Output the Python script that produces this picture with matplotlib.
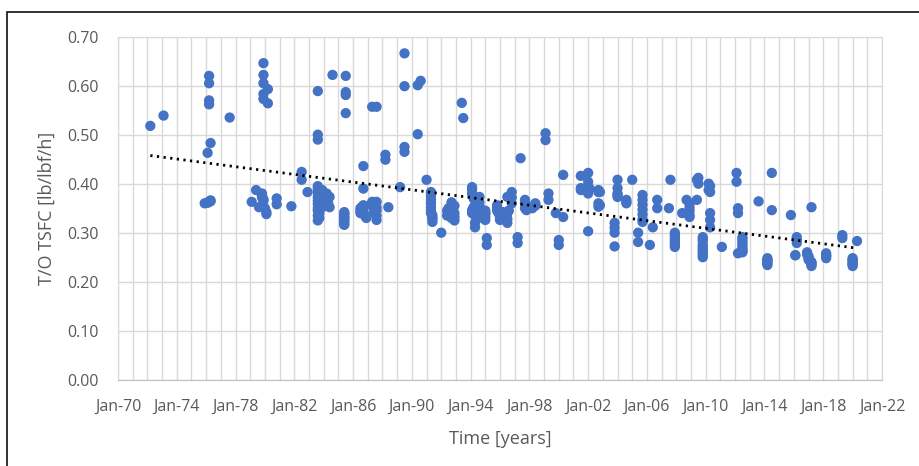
import numpy as np
import matplotlib
matplotlib.use("Agg")
import matplotlib.pyplot as plt
from matplotlib.patches import Rectangle
from matplotlib.ticker import MultipleLocator, FixedLocator

# engine entry-into-service (decimal year) and take-off TSFC [lb/lbf/h]
years_70s = [1972.2, 1973.1, 1976.2, 1976.2, 1976.2, 1976.2, 1976.3, 1976.1,
             1975.9, 1976.1, 1976.3, 1977.6,
             1979.9, 1979.9, 1979.9, 1979.9, 1979.9, 1980.2, 1980.2,
             1979.1, 1979.4, 1979.8, 1979.8, 1979.6, 1980.1, 1979.9]
tsfc_70s = [0.518, 0.539, 0.620, 0.605, 0.570, 0.562, 0.483, 0.463,
            0.360, 0.362, 0.366, 0.535,
            0.646, 0.622, 0.605, 0.583, 0.573, 0.593, 0.564,
            0.363, 0.387, 0.375, 0.380, 0.352, 0.338, 0.368]

years_80s = [1980.8, 1980.8, 1981.8, 1982.5, 1982.5, 1982.9,
             1983.6, 1983.6, 1983.6,
             1983.6, 1983.6, 1983.6, 1983.6, 1983.6, 1983.6, 1983.6,
             1983.9, 1983.9, 1983.9, 1984.2, 1984.2, 1984.4, 1984.4,
             1984.6, 1985.5, 1985.5, 1985.5, 1985.5,
             1985.4, 1985.4, 1985.4, 1985.4, 1985.4,
             1986.5, 1986.5, 1986.7, 1986.7, 1986.7, 1986.9, 1987.3, 1987.3,
             1987.6, 1987.6, 1987.6, 1987.6, 1988.2, 1988.2, 1988.4,
             1989.2, 1989.5, 1989.5, 1989.5, 1989.5]
tsfc_80s = [0.370, 0.358, 0.354, 0.424, 0.408, 0.383,
            0.589, 0.500, 0.490,
            0.395, 0.385, 0.372, 0.358, 0.345, 0.335, 0.325,
            0.387, 0.370, 0.352, 0.380, 0.365, 0.373, 0.352,
            0.622, 0.620, 0.587, 0.581, 0.544,
            0.342, 0.335, 0.328, 0.322, 0.316,
            0.340, 0.350, 0.356, 0.390, 0.436, 0.330, 0.363, 0.557,
            0.363, 0.326, 0.557, 0.345, 0.459, 0.449, 0.352,
            0.393, 0.666, 0.599, 0.475, 0.465]

years_90s = [1990.4, 1990.4, 1990.6, 1991.0,
             1991.3, 1991.3, 1991.3, 1991.4, 1991.4, 1992.0,
             1992.4, 1992.4, 1992.7, 1992.7, 1992.7, 1992.7, 1992.9, 1992.9,
             1993.4, 1993.5,
             1994.1, 1994.1, 1994.1, 1994.1, 1994.3, 1994.3,
             1994.6, 1994.6, 1994.6, 1995.0, 1995.0, 1995.0, 1995.1, 1995.1,
             1995.8, 1995.8, 1996.0, 1996.0, 1996.5, 1996.5, 1996.5,
             1996.8, 1996.8, 1997.2, 1997.2, 1997.4,
             1997.7, 1997.7, 1997.8, 1998.4, 1998.4,
             1999.1, 1999.1, 1999.3, 1999.3, 1999.8, 2000.0, 2000.0]
tsfc_90s = [0.601, 0.501, 0.610, 0.408,
            0.383, 0.367, 0.346, 0.336, 0.322, 0.300,
            0.345, 0.335, 0.362, 0.350, 0.340, 0.330, 0.355, 0.325,
            0.565, 0.534,
            0.393, 0.380, 0.346, 0.340, 0.311, 0.320,
            0.373, 0.332, 0.355, 0.326, 0.345, 0.338, 0.289, 0.275,
            0.356, 0.345, 0.326, 0.335, 0.320, 0.373, 0.340,
            0.383, 0.360, 0.291, 0.279, 0.452,
            0.367, 0.350, 0.346, 0.360, 0.355,
            0.503, 0.489, 0.380, 0.367, 0.340, 0.285, 0.275]

years_00s = [2000.3, 2000.3,
             2001.5, 2001.5, 2001.5, 2002.0, 2002.0, 2002.0, 2002.0, 2002.0,
             2002.1, 2002.7, 2002.7, 2002.7, 2002.7, 2002.8, 2002.8,
             2003.8, 2003.8, 2003.8, 2003.8,
             2004.0, 2004.0, 2004.0, 2004.0, 2004.0,
             2004.6, 2004.6, 2004.6, 2005.0, 2005.4, 2005.4,
             2005.7, 2005.7, 2005.7, 2005.7, 2005.7, 2005.7, 2005.7,
             2006.2, 2006.4, 2006.7, 2006.7, 2007.5, 2007.6,
             2007.9, 2007.9, 2007.9, 2007.9,
             2008.4, 2008.7, 2008.9, 2008.9, 2008.9, 2008.9, 2008.9,
             2009.4, 2009.4, 2009.5, 2009.5,
             2009.8, 2009.8, 2009.8, 2009.8, 2009.8, 2009.8]
tsfc_00s = [0.332, 0.418,
            0.416, 0.391, 0.387, 0.422, 0.404, 0.393, 0.380, 0.303,
            0.390, 0.387, 0.383, 0.360, 0.353, 0.383, 0.356,
            0.320, 0.310, 0.300, 0.272,
            0.408, 0.391, 0.380, 0.377, 0.373,
            0.367, 0.360, 0.363, 0.408, 0.300, 0.281,
            0.377, 0.367, 0.357, 0.347, 0.337, 0.327, 0.322,
            0.275, 0.311, 0.367, 0.350, 0.350, 0.408,
            0.300, 0.290, 0.280, 0.271,
            0.340, 0.367, 0.336, 0.352, 0.360, 0.345, 0.332,
            0.367, 0.408, 0.412, 0.400,
            0.291, 0.283, 0.275, 0.267, 0.258, 0.250]

years_10s = [2010.2, 2010.2, 2010.3, 2010.3, 2010.3, 2010.3, 2010.3,
             2011.1, 2012.1, 2012.1, 2012.2, 2012.2, 2012.2,
             2012.5, 2012.5, 2012.5, 2012.5, 2012.5,
             2013.6, 2014.2, 2014.2, 2014.2, 2014.5, 2014.5,
             2015.8, 2016.1, 2016.2, 2016.2,
             2016.9, 2017.0, 2017.0, 2017.2, 2017.2, 2017.2,
             2018.2, 2018.2, 2019.3, 2019.3,
             2020.0, 2020.0, 2020.0, 2020.3]
tsfc_10s = [0.400, 0.387, 0.340, 0.326, 0.311, 0.383, 0.395,
            0.271, 0.422, 0.404, 0.350, 0.340, 0.258,
            0.291, 0.282, 0.273, 0.265, 0.260,
            0.364, 0.248, 0.240, 0.234, 0.422, 0.346,
            0.336, 0.254, 0.291, 0.279,
            0.260, 0.252, 0.245, 0.238, 0.232, 0.352,
            0.258, 0.248, 0.295, 0.289,
            0.248, 0.240, 0.232, 0.283]

# engines sitting on top of each other inside the dense blobs
years_dense = [1976.1, 1976.2, 1976.3, 1979.8, 1979.8, 1979.9, 1980.0, 1980.1,
               1983.6, 1983.6, 1983.6, 1983.6, 1983.7, 1983.7, 1983.8, 1983.8,
               1983.9, 1984.0, 1984.1, 1984.2, 1984.3,
               1985.4, 1985.4, 1985.4, 1985.4, 1985.4, 1985.4,
               1986.5, 1986.6, 1986.7, 1986.8, 1987.3, 1987.4, 1987.6, 1987.6,
               1991.3, 1991.3, 1991.3, 1991.3, 1991.4, 1991.4,
               1992.5, 1992.6, 1992.6, 1992.7, 1992.8, 1992.8, 1992.9, 1992.9,
               1994.1, 1994.2, 1994.2, 1994.3, 1994.4, 1994.5, 1994.6, 1994.7,
               1994.8, 1994.9, 1995.0, 1995.0,
               1995.8, 1995.9, 1996.0, 1996.2, 1996.4, 1996.5, 1996.6, 1996.8,
               1997.7, 1997.8, 1998.0, 1998.2, 1998.4,
               2007.9, 2007.9, 2007.9, 2009.8, 2009.8, 2009.8, 2009.8,
               2012.5, 2012.5, 2012.5, 2012.5, 2014.2, 2014.2, 2014.2,
               2016.9, 2017.0, 2017.1, 2017.2, 2017.2, 2018.2, 2018.2,
               2020.0, 2020.0, 2020.0, 2020.0, 2016.1, 2016.2]
tsfc_dense = [0.361, 0.363, 0.364, 0.378, 0.372, 0.365, 0.350, 0.342,
              0.390, 0.380, 0.365, 0.350, 0.340, 0.330, 0.375, 0.360,
              0.380, 0.360, 0.375, 0.370, 0.360,
              0.340, 0.332, 0.325, 0.318, 0.338, 0.330,
              0.345, 0.352, 0.345, 0.335, 0.355, 0.340, 0.352, 0.335,
              0.375, 0.360, 0.352, 0.340, 0.330, 0.328,
              0.350, 0.345, 0.335, 0.345, 0.350, 0.338, 0.340, 0.332,
              0.388, 0.370, 0.352, 0.335, 0.345, 0.330, 0.362, 0.345,
              0.335, 0.330, 0.340, 0.332,
              0.350, 0.340, 0.330, 0.342, 0.335, 0.328, 0.345, 0.372,
              0.360, 0.355, 0.352, 0.350, 0.358,
              0.295, 0.285, 0.275, 0.287, 0.270, 0.262, 0.254,
              0.287, 0.278, 0.268, 0.262, 0.244, 0.237, 0.244,
              0.256, 0.249, 0.242, 0.235, 0.240, 0.253, 0.253,
              0.244, 0.236, 0.236, 0.244, 0.254, 0.285]

x_tick_years = list(range(1970, 2023, 4))
x_tick_labels = ["Jan-%02d" % (y % 100) for y in x_tick_years]

years = np.array(years_70s + years_80s + years_90s + years_00s + years_10s
                 + years_dense)
tsfc = np.array(tsfc_70s + tsfc_80s + tsfc_90s + tsfc_00s + tsfc_10s
                + tsfc_dense)

plt.rcParams["font.family"] = ["Open Sans", "DejaVu Sans"]
grey = "#595959"

fig = plt.figure(figsize=(9.2, 4.66), dpi=100)
ax = fig.add_axes([118 / 920, 1 - 379.7 / 466, 764 / 920, 343 / 466])

ax.scatter(years, tsfc, s=55, color="#4472C4", edgecolors="none", zorder=3)

# linear trendline over the data range
coef = np.polyfit(years, tsfc, 1)
tx = np.array([years.min(), years.max()])
ax.plot(tx, np.polyval(coef, tx), color="black", lw=2.0,
        linestyle=(0, (0.8, 1.6)), zorder=4)

ax.set_xlim(1970, 2022)
ax.set_ylim(0, 0.70)
ax.xaxis.set_major_locator(FixedLocator(x_tick_years))
ax.set_xticklabels(x_tick_labels)
ax.xaxis.set_minor_locator(MultipleLocator(1))
ax.yaxis.set_major_locator(MultipleLocator(0.1))
ax.yaxis.set_major_formatter(matplotlib.ticker.FormatStrFormatter("%.2f"))

ax.grid(True, which="both", axis="x", color="#d9d9d9", lw=1.0, zorder=0)
ax.grid(True, which="major", axis="y", color="#d9d9d9", lw=1.0, zorder=0)
ax.set_axisbelow(True)
for side in ["top", "right", "left"]:
    ax.spines[side].set_color("#d9d9d9")
ax.spines["bottom"].set_color("#bfbfbf")
ax.tick_params(which="both", length=0, colors=grey, labelsize=11.5)
ax.tick_params(axis="x", pad=14)
ax.tick_params(axis="y", pad=14)

ax.set_xlabel("Time [years]", fontsize=13, color=grey, labelpad=11)
ax.set_ylabel("T/O TSFC [lb/lbf/h]", fontsize=13, color=grey, labelpad=8)

# chart frame
fig.patches.append(Rectangle((7 / 920, -0.05), 1.2, 1 - 12 / 466 + 0.05,
                             transform=fig.transFigure, fill=False,
                             edgecolor="#222222", lw=1.3))

fig.savefig("out.png", dpi=100)
